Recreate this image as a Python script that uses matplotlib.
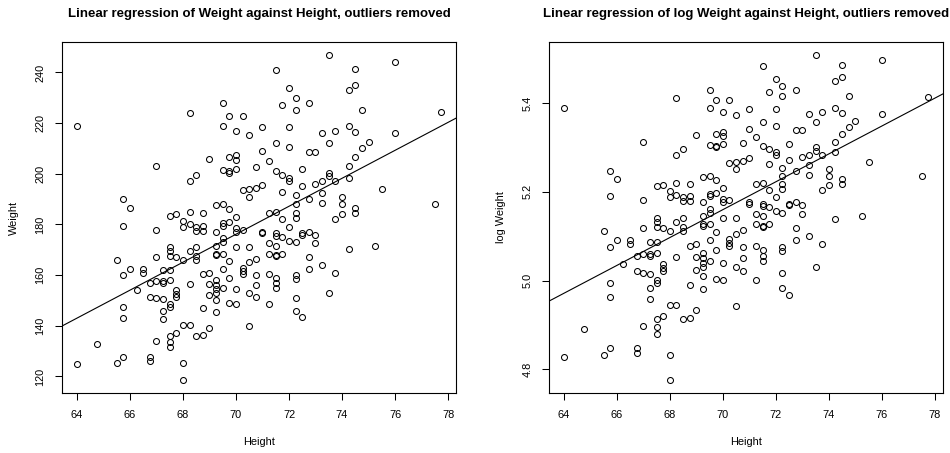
import numpy as np
import matplotlib
matplotlib.use("Agg")
import matplotlib.pyplot as plt

plt.rcParams["font.family"] = ["Liberation Sans", "DejaVu Sans"]

## Data: height (in) and weight (lb), grouped by height
height = [
    64, 64,
    64.75,
    65.5, 65.5,
    65.75, 65.75, 65.75, 65.75, 65.75, 65.75,
    66, 66,
    66.25,
    66.5, 66.5,
    66.75, 66.75, 66.75, 66.75,
    67, 67, 67, 67, 67, 67,
    67.25, 67.25, 67.25, 67.25, 67.25, 67.25,
    67.5, 67.5, 67.5, 67.5, 67.5, 67.5, 67.5, 67.5, 67.5, 67.5, 67.5,
    67.75, 67.75, 67.75, 67.75, 67.75, 67.75,
    68, 68, 68, 68, 68, 68,
    68.25, 68.25, 68.25, 68.25, 68.25, 68.25, 68.25,
    68.5, 68.5, 68.5, 68.5, 68.5, 68.5, 68.5,
    68.75, 68.75, 68.75, 68.75, 68.75, 68.75,
    69, 69, 69, 69, 69,
    69.25, 69.25, 69.25, 69.25, 69.25, 69.25, 69.25, 69.25, 69.25, 69.25, 69.25,
    69.5, 69.5, 69.5, 69.5, 69.5, 69.5, 69.5, 69.5, 69.5, 69.5, 69.5,
    69.75, 69.75, 69.75, 69.75, 69.75, 69.75, 69.75, 69.75, 69.75,
    70, 70, 70, 70, 70, 70, 70, 70, 70, 70,
    70.25, 70.25, 70.25, 70.25, 70.25, 70.25,
    70.5, 70.5, 70.5, 70.5, 70.5, 70.5, 70.5,
    70.75, 70.75, 70.75, 70.75, 70.75, 70.75,
    71, 71, 71, 71, 71,
    71.25, 71.25, 71.25, 71.25, 71.25, 71.25,
    71.5, 71.5, 71.5, 71.5, 71.5, 71.5, 71.5, 71.5, 71.5, 71.5, 71.5, 71.5,
    71.75, 71.75, 71.75, 71.75, 71.75, 71.75,
    72, 72, 72, 72, 72, 72, 72,
    72.25, 72.25, 72.25, 72.25, 72.25, 72.25, 72.25, 72.25, 72.25, 72.25, 72.25,
    72.5, 72.5, 72.5, 72.5, 72.5,
    72.75, 72.75, 72.75, 72.75, 72.75, 72.75,
    73, 73, 73, 73,
    73.25, 73.25, 73.25, 73.25, 73.25,
    73.5, 73.5, 73.5, 73.5, 73.5,
    73.75, 73.75, 73.75, 73.75,
    74, 74, 74,
    74.25, 74.25, 74.25, 74.25, 74.25,
    74.5, 74.5, 74.5, 74.5, 74.5, 74.5,
    74.75, 74.75,
    75,
    75.25,
    75.5,
    76, 76,
    77.5,
    77.75,
]
weight = [
    219, 125,
    133,
    166, 125.5,
    190, 179.5, 160, 147.5, 143, 127.5,
    186.5, 162.5,
    154,
    162.5, 161,
    157, 151.5, 127.5, 126,
    203, 178, 167, 157.5, 151, 134,
    162, 157.5, 157, 150.5, 146, 142.5,
    183.5, 171, 169.5, 167.5, 162, 158, 148.5, 147.5, 136, 133.5, 131.5,
    184, 167, 154, 152.5, 151.5, 137,
    181.5, 179, 166, 140.5, 125.5, 118.5,
    224, 197, 185, 180, 169.5, 156.5, 140.5,
    199.5, 179, 177.5, 171, 167.5, 166, 136,
    184.5, 179.5, 177.5, 160.5, 147, 136.5,
    206, 161, 156.5, 152, 139,
    187.5, 177, 171.5, 168.5, 168, 158, 156, 154.5, 153, 150, 145.5,
    228, 219, 201.5, 188, 180.5, 179.5, 174.5, 173, 168.5, 162.5, 155,
    223, 206.5, 201, 200.5, 186, 181, 165.5, 159, 149,
    217, 207.5, 205.5, 202, 183, 178.5, 177, 171, 154.5, 148.5,
    223, 193.5, 178, 163, 161.5, 160.5,
    215.5, 194, 191, 171, 165, 153, 140,
    202.5, 194.5, 166.5, 160, 156, 151.5,
    218.5, 209, 195.5, 177, 176.5,
    205, 184.5, 172.5, 168.5, 160.5, 148.5,
    241, 212, 201, 185, 176.5, 175.5, 171.5, 168, 167.5, 159, 157, 155,
    227, 199.5, 193, 182, 175, 168.5,
    234, 218.5, 210.5, 198.5, 197, 179, 173.5,
    230, 225, 191.5, 188, 184.5, 182.5, 173, 160, 158.5, 151, 146,
    202, 195, 176.5, 176, 143.5,
    228, 208.5, 190, 177, 167, 162.5,
    208.5, 196, 176, 172.5,
    216, 197, 192.5, 188.5, 164,
    247, 212, 200.5, 199, 153,
    217, 197, 182, 161,
    191, 188, 184,
    233, 219, 203, 198.5, 170.5,
    241.5, 235, 216.5, 206.5, 186.5, 184.5,
    225, 210,
    212.5,
    171.5,
    194,
    244, 216,
    188,
    224.5,
]

titles = [
    "Linear regression of Weight against Height, outliers removed",
    "Linear regression of log Weight against Height, outliers removed",
]
ylabels = ["Weight", "log Weight"]
yticks = [[120, 140, 160, 180, 200, 220, 240], [4.8, 5.0, 5.2, 5.4]]
xticks = [64, 66, 68, 70, 72, 74, 76, 78]

height = np.array(height, dtype=float)
weight = np.array(weight, dtype=float)
log_weight = np.log(weight)


def r_range(v):
    # R pads the data range by 4% on each side
    lo, hi = np.min(v), np.max(v)
    d = (hi - lo) * 0.04
    return lo - d, hi + d


fig = plt.figure(figsize=(9.5, 4.53), dpi=100)
axes = [
    fig.add_axes([62.3 / 950, 1 - 393.3 / 453, 393.7 / 950, 351.6 / 453]),
    fig.add_axes([549.3 / 950, 1 - 393.3 / 453, 393.4 / 950, 351.6 / 453]),
]

for ax, yv, title, ylab, yt in zip(axes, [weight, log_weight], titles, ylabels, yticks):
    xlim = r_range(height)
    ylim = r_range(yv)

    ax.plot(height, yv, linestyle="none", marker="o", markersize=4.3,
            markerfacecolor="none", markeredgecolor="black", markeredgewidth=0.75)

    # least squares line, drawn across the whole panel like abline()
    slope, intercept = np.polyfit(height, yv, 1)
    xs = np.array(xlim)
    ax.plot(xs, intercept + slope * xs, color="black", linewidth=0.8)

    ax.set_xlim(xlim)
    ax.set_ylim(ylim)
    ax.set_xticks(xticks)
    ax.set_yticks(yt)
    if ylab == "log Weight":
        ax.set_yticklabels([f"{t:.1f}" for t in yt])
    ax.tick_params(direction="out", length=5, width=0.75, labelsize=7.9, pad=7.2)
    ax.tick_params(axis="y", labelrotation=90)
    for lab in ax.get_yticklabels():
        lab.set_va("center")
    for s in ax.spines.values():
        s.set_linewidth(0.8)

    ax.set_xlabel("Height", fontsize=7.9)
    ax.xaxis.set_label_coords(0.5, -0.1377)
    ax.xaxis.label.set_va("center")
    ax.set_ylabel(ylab, fontsize=7.9)
    ax.yaxis.set_label_coords(-0.122, 0.5)
    ax.yaxis.label.set_va("center")

    ax.text(0.5, 1 + (41.7 - 14) / 351.6, title, transform=ax.transAxes,
            ha="center", va="center", fontsize=9.5, fontweight="bold")

plt.savefig("out.png", dpi=100)
